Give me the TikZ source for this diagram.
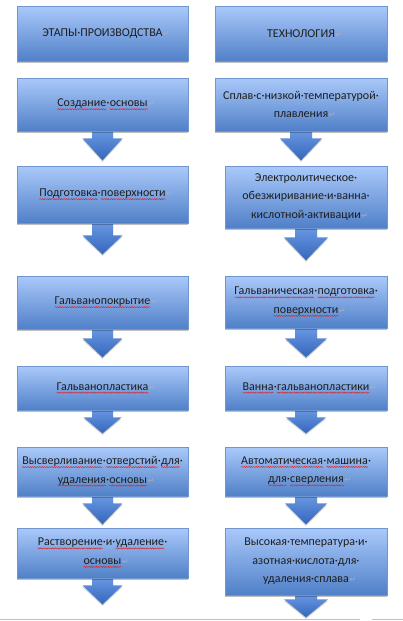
\documentclass[tikz,border=0pt]{standalone}
\usepackage{fontspec}
\setmainfont{Carlito}
\newfontfamily\symfont{DejaVu Sans}
\usetikzlibrary{shadows,decorations.pathmorphing,calc}
\definecolor{boxtop}{RGB}{170,201,250}
\definecolor{boxmid}{RGB}{135,175,236}
\definecolor{boxbot}{RGB}{80,128,200}
\definecolor{boxline}{RGB}{112,150,208}
\definecolor{arrtop}{RGB}{105,152,226}
\definecolor{arrbot}{RGB}{52,102,188}
\definecolor{txt}{RGB}{30,30,30}
\definecolor{retc}{RGB}{175,175,175}
\definecolor{sqc}{RGB}{215,40,40}
\newcommand\ret{\rlap{\kern0.5pt{\symfont\fontsize{8}{8}\selectfont\color{retc}↵}}}
\newcommand\sq[1]{\tikz[baseline=(q.base)]{\node[inner sep=0pt,outer sep=0pt,minimum width=0pt,minimum height=0pt,draw=none](q){#1};\draw[sqc,line width=0.45pt,decorate,decoration={snake,amplitude=0.6pt,segment length=2.4pt}]([yshift=-2.4pt]q.base west)--([yshift=-2.4pt]q.base east);}}
\pgfdeclarelayer{bg}
\pgfsetlayers{bg,main}
\tikzset{
  blueshade/.style={top color=boxtop, middle color=boxmid, bottom color=boxbot},
  stagebox/.style={draw=boxline, line width=0.6pt, blueshade, rectangle, inner sep=2pt,
    align=center, text=txt, font=\fontsize{12}{18.5}\selectfont,
    drop shadow={shadow xshift=0pt, shadow yshift=-2pt, opacity=0.25, fill=black}},
  blockarrow/.style={top color=arrtop, bottom color=arrbot, draw=none,
    drop shadow={shadow xshift=0pt, shadow yshift=-1.5pt, opacity=0.2, fill=black}}
}
% #1 start anchor, #2 shaft length, #3 head length, #4 shaft half width, #5 head half width
\newcommand\darrow[5]{\path[blockarrow] (#1) ++(-#4,-1) -- ++(0,{#2+1}) -- ++({#4-#5},0) -- ++(#5,#3) -- ++(#5,-#3) -- ++({#4-#5},0) -- ++(0,{-#2-1}) -- cycle;}
\begin{document}
\begin{tikzpicture}[x=1pt,y=-1pt]
\useasboundingbox (0,0) rectangle (403,621);
% left column (x 17..188)
\node[stagebox, minimum width=171pt, minimum height=55pt] (l1) at (102.5,33.5) {ЭТАПЫ·ПРОИЗВОДСТВА\ret};
\node[stagebox, minimum width=171pt, minimum height=53pt] (l2) at (102.5,104.5) {\sq{Создание}·\sq{основы}\ret};
\node[stagebox, minimum width=171pt, minimum height=57pt] (l3) at (102.5,194.5) {\sq{Подготовка}·\sq{поверхности}\ret};
\node[stagebox, minimum width=171pt, minimum height=53pt] (l4) at (102.5,302.5) {\sq{Гальванопокрытие}\ret};
\node[stagebox, minimum width=171pt, minimum height=44pt] (l5) at (102.5,388) {\sq{Гальванопластика}\ret};
\node[stagebox, minimum width=171pt, minimum height=49pt] (l6) at (102.5,471.5) {\sq{Высверливание}·\sq{отверстий}·\sq{для}·\\\sq{удаления}·\sq{основы}\ret};
\node[stagebox, minimum width=171pt, minimum height=50pt] (l7) at (102.5,553) {\sq{Растворение}·и·\sq{удаление}·\\\sq{основы}\ret};
% right column
\node[stagebox, minimum width=172pt, minimum height=55pt] (r1) at (301,33.5) {ТЕХНОЛОГИЯ\ret};
\node[stagebox, minimum width=172pt, minimum height=53pt] (r2) at (301,104.5) {Сплав·с·низкой·температурой·\\плавления\ret};
\node[stagebox, minimum width=162pt, minimum height=62pt] (r3) at (306,197) {Электролитическое·\\обезжиривание·и·ванна·\\кислотной·активации\ret};
\node[stagebox, minimum width=162pt, minimum height=52pt] (r4) at (306,302) {\sq{Гальваническая}·\sq{подготовка}·\\\sq{поверхности}\ret};
\node[stagebox, minimum width=162pt, minimum height=44pt] (r5) at (306,388) {\sq{Ванна}·\sq{гальванопластики}\ret};
\node[stagebox, minimum width=162pt, minimum height=49pt] (r6) at (306,471.5) {\sq{Автоматическая}·\sq{машина}·\\\sq{для}·\sq{сверления}\ret};
\node[stagebox, minimum width=162pt, minimum height=67pt] (r7) at (306,561.5) {Высокая·температура·и·\\азотная·кислота·для·\\удаления·сплава\ret};
% arrows
\begin{pgfonlayer}{bg}
\darrow{l2.south}{7}{22}{10.5}{20}
\darrow{l3.south}{12}{19}{10.5}{20}
\darrow{l4.south}{9}{19}{10.5}{20}
\darrow{l5.south}{7}{16}{10.5}{19}
\darrow{l6.south}{7}{21}{10.5}{20}
\darrow{l7.south}{7}{19}{10.5}{20}
\darrow{r2.south}{7}{22}{11}{21}
\darrow{r3.south}{9}{23}{11}{22}
\darrow{r4.south}{10}{19}{11}{21}
\darrow{r5.south}{7}{16}{11}{20}
\darrow{r6.south}{7}{21}{11}{21}
\darrow{r7.south}{4}{18}{11}{22}
\end{pgfonlayer}
% page edge line
\draw[black!25, line width=0.8pt] (0,619) -- (360,619) (372,619) -- (403,619);
\end{tikzpicture}
\end{document}
